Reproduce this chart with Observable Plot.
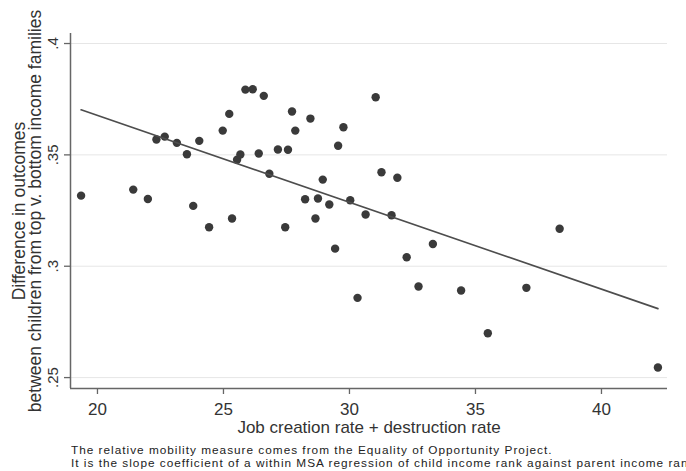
<!DOCTYPE html>
<html>
<head>
<meta charset="utf-8">
<script src="https://cdn.jsdelivr.net/npm/d3@7"></script>
<script src="https://cdn.jsdelivr.net/npm/@observablehq/plot@0.6"></script>
<style>
  html, body { margin: 0; padding: 0; background: #fff; overflow: hidden; }
  body { font-family: "Liberation Sans", Arial, sans-serif; }
  #caption {
    margin: 2px 0 0 71px;
    width: 615px;
    overflow: hidden;
    white-space: nowrap;
    font-size: 11.8px;
    line-height: 12.5px;
    letter-spacing: 1px;
    color: #222;
  }
</style>
</head>
<body>
<div id="chart"></div>
<script>
// Job creation + destruction rate for each metro area (MSA)
const churn = [
  19.35, 21.42, 22.00, 22.34, 22.67, 23.15, 23.55, 23.80, 24.04, 24.43,
  24.97, 25.23, 25.34, 25.54, 25.67, 25.87, 26.16, 26.40, 26.60, 26.82,
  27.16, 27.45, 27.56, 27.72, 27.85, 28.24, 28.45, 28.65, 28.75, 28.94,
  29.20, 29.43, 29.55, 29.76, 30.03, 30.32, 30.64, 31.04, 31.27, 31.67,
  31.90, 32.27, 32.74, 33.31, 34.43, 35.49, 37.02, 38.34, 42.24
];
// Gap in outcomes between children from top and bottom income families
const gap = [
  0.3317, 0.3344, 0.3302, 0.3569, 0.3582, 0.3554, 0.3503, 0.3271, 0.3563, 0.3175,
  0.3609, 0.3684, 0.3214, 0.3478, 0.3502, 0.3793, 0.3795, 0.3506, 0.3765, 0.3415,
  0.3524, 0.3175, 0.3523, 0.3695, 0.3609, 0.3301, 0.3663, 0.3214, 0.3304, 0.3389,
  0.3277, 0.3079, 0.3541, 0.3624, 0.3296, 0.2858, 0.3232, 0.3759, 0.3422, 0.3229,
  0.3397, 0.3040, 0.2909, 0.3100, 0.2891, 0.2699, 0.2903, 0.3168, 0.2545
];

const xTicks = [20, 25, 30, 35, 40];
const yTicks = [0.25, 0.3, 0.35, 0.4];
const yTickLabels = [".25", ".3", ".35", ".4"];

const xTitle = "Job creation rate + destruction rate";
const yTitle = "Difference in outcomes\nbetween children from top v. bottom income families";
const captionLines = [
  "The relative mobility measure comes from the Equality of Opportunity Project.",
  "It is the slope coefficient of a within MSA regression of child income rank against parent income rank"
];

const xDomain = [18.93, 42.62];
const yDomain = [0.2451, 0.4045];

const data = churn.map((c, i) => ({churn: c, gap: gap[i]}));
const yLabelOf = new Map(yTicks.map((t, i) => [t, yTickLabels[i]]));

const axisColor = "#666";
const textColor = "#333";

const chart = Plot.plot({
  width: 686,
  height: 442,
  marginLeft: 70,
  marginRight: 19,
  marginTop: 33,
  marginBottom: 54,
  style: {
    fontFamily: '"Liberation Sans", Arial, sans-serif',
    fontSize: "17px",
    color: textColor,
    background: "#fff"
  },
  x: {domain: xDomain},
  y: {domain: yDomain},
  marks: [
    Plot.gridY(yTicks, {stroke: "#e6e6e6", strokeOpacity: 1, strokeWidth: 1}),
    Plot.axisY(yTicks, {
      tickFormat: d => yLabelOf.get(d),
      tickSize: 6,
      tickPadding: 7,
      tickRotate: -90,
      stroke: axisColor,
      strokeWidth: 1.3,
      fontSize: 15,
      label: null
    }),
    Plot.axisX(xTicks, {
      tickSize: 6,
      tickPadding: 8,
      stroke: axisColor,
      strokeWidth: 1.3,
      fontSize: 17,
      label: null
    }),
    Plot.ruleX([xDomain[0]], {stroke: axisColor, strokeWidth: 1.5}),
    Plot.ruleY([yDomain[0]], {stroke: axisColor, strokeWidth: 1.5}),
    Plot.dot(data, {x: "churn", y: "gap", r: 4.2, fill: "#3a3a3a", stroke: null}),
    Plot.linearRegressionY(data, {x: "churn", y: "gap", ci: 0, stroke: "#4d4d4d", strokeWidth: 1.6}),
    Plot.text([xTitle], {frameAnchor: "bottom", dy: 44, fontSize: 17, fill: textColor}),
    Plot.text([yTitle], {
      frameAnchor: "left",
      textAnchor: "middle",
      dx: -43,
      rotate: -90,
      fontSize: 17.5,
      lineHeight: 0.93,
      fill: textColor
    })
  ]
});

const root = document.getElementById("chart");
root.appendChild(chart);

const caption = document.createElement("div");
caption.id = "caption";
caption.innerHTML = captionLines.map(s => `<div>${s}</div>`).join("");
root.appendChild(caption);
</script>
</body>
</html>
